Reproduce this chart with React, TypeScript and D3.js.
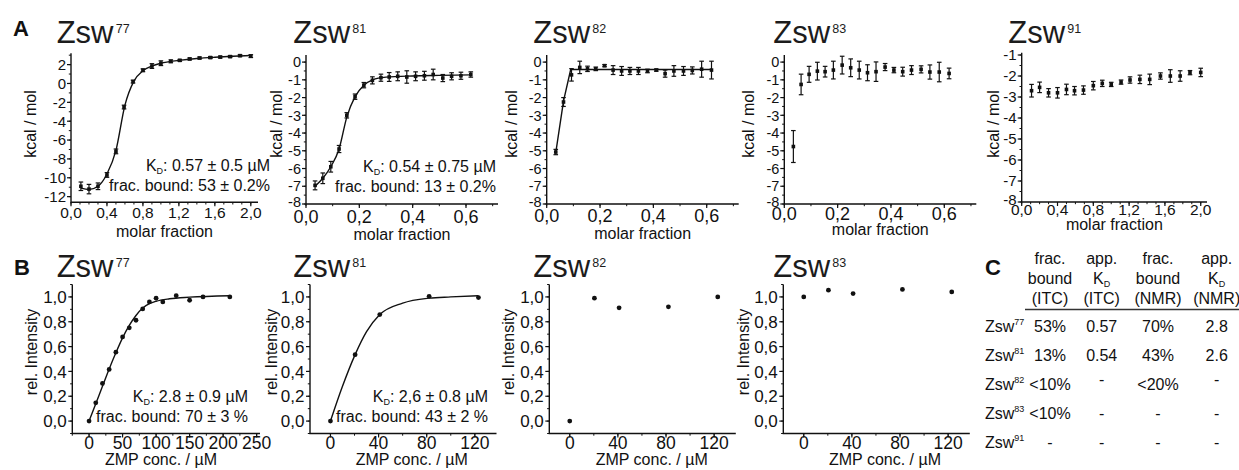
import React from 'react'
import * as d3 from 'd3'

const FONT = '"Liberation Sans", Arial, Helvetica, sans-serif'
const INK = '#111'

// ---- A: ITC titrations (molar fraction vs kcal/mol) ----
const molarLong = [0.11, 0.2, 0.3, 0.4, 0.5, 0.59, 0.69, 0.8, 0.9, 1.0, 1.11, 1.21, 1.32, 1.43, 1.55, 1.66, 1.77, 1.88, 2.0]
const molarShort = [0.034, 0.063, 0.093, 0.124, 0.153, 0.184, 0.217, 0.249, 0.281, 0.312, 0.344, 0.378, 0.411, 0.444, 0.477, 0.513, 0.546, 0.581, 0.618]

const heat77 = [-10.9, -11.2, -10.9, -9.7, -7.2, -2.5, 0.2, 1.4, 1.85, 2.15, 2.35, 2.45, 2.6, 2.7, 2.75, 2.8, 2.85, 2.95, 2.9]
const err77 = [0.45, 0.5, 0.35, 0.25, 0.25, 0.2, 0.15, 0.15, 0.25, 0.25, 0.15, 0.1, 0.1, 0.1, 0.1, 0.1, 0.1, 0.1, 0.15]
const fit77X = [0.11, 0.2, 0.3, 0.4, 0.5, 0.6, 0.7, 0.8, 0.9, 1.0, 1.2, 1.4, 1.6, 1.8, 2.0]
const fit77Y = [-11.1, -11.25, -10.9, -9.6, -7.1, -2.3, 0.25, 1.35, 1.85, 2.15, 2.45, 2.65, 2.78, 2.88, 2.97]

const heat81 = [-6.95, -6.55, -5.9, -4.9, -3.0, -1.95, -1.3, -1.03, -0.88, -0.84, -0.8, -0.84, -0.8, -0.77, -0.7, -0.9, -0.8, -0.77, -0.7]
const err81 = [0.25, 0.3, 0.3, 0.2, 0.15, 0.15, 0.15, 0.2, 0.2, 0.25, 0.25, 0.35, 0.25, 0.25, 0.3, 0.2, 0.2, 0.2, 0.15]
const fit81X = [0.034, 0.063, 0.093, 0.124, 0.153, 0.184, 0.217, 0.25, 0.3, 0.4, 0.5, 0.618]
const fit81Y = [-7.0, -6.55, -5.9, -4.9, -3.1, -1.95, -1.3, -1.0, -0.85, -0.78, -0.75, -0.72]

const heat82 = [-5.07, -2.25, -0.72, -0.3, -0.38, -0.38, -0.2, -0.45, -0.5, -0.5, -0.5, -0.5, -0.45, -0.65, -0.5, -0.5, -0.47, -0.4, -0.45]
const err82 = [0.15, 0.25, 0.35, 0.35, 0.15, 0.1, 0.06, 0.25, 0.25, 0.2, 0.2, 0.1, 0.06, 0.2, 0.3, 0.25, 0.2, 0.45, 0.5]
const fit82X = [0.034, 0.063, 0.09, 0.618]
const fit82Y = [-5.1, -2.2, -0.42, -0.42]

const heat83 = [-4.76, -1.26, -0.69, -0.51, -0.54, -0.45, -0.17, -0.32, -0.45, -0.6, -0.54, -0.28, -0.45, -0.54, -0.45, -0.41, -0.56, -0.56, -0.64]
const err83 = [0.9, 0.58, 0.45, 0.5, 0.3, 0.5, 0.5, 0.5, 0.5, 0.45, 0.55, 0.2, 0.15, 0.25, 0.25, 0.2, 0.4, 0.55, 0.3]

const heat91 = [-2.7, -2.54, -2.8, -2.8, -2.64, -2.7, -2.67, -2.46, -2.35, -2.4, -2.29, -2.19, -2.16, -2.16, -2.0, -2.0, -2.0, -1.84, -1.83]
const err91 = [0.3, 0.25, 0.2, 0.25, 0.25, 0.2, 0.2, 0.2, 0.15, 0.1, 0.1, 0.15, 0.2, 0.25, 0.15, 0.3, 0.25, 0.1, 0.2]

const molarTicksLong = [0, 0.4, 0.8, 1.2, 1.6, 2.0]
const molarTicksShort = [0, 0.2, 0.4, 0.6]
const kcalTicks77 = [-12, -10, -8, -6, -4, -2, 0, 2]
const kcalTicks8x = [-8, -7, -6, -5, -4, -3, -2, -1, 0]
const kcalTicks91 = [-8, -7, -6, -5, -4, -3, -2, -1]

// ---- B: NMR titrations (ZMP conc. vs rel. intensity) ----
const zmp77 = [0, 10, 20, 30, 40, 50, 60, 70, 80, 90, 100, 110, 130, 150, 170, 210]
const int77 = [0, 0.147, 0.303, 0.416, 0.555, 0.678, 0.751, 0.812, 0.903, 0.96, 0.99, 0.96, 1.01, 0.973, 1.0, 1.0]
const fitB77X = [0, 10, 20, 30, 40, 50, 60, 70, 80, 90, 100, 120, 150, 210]
const fitB77Y = [0, 0.14, 0.28, 0.42, 0.55, 0.67, 0.77, 0.85, 0.91, 0.945, 0.965, 0.985, 0.998, 1.01]

const zmpShort = [0, 20.5, 41, 82, 123]
const int81 = [0, 0.535, 0.858, 1.005, 0.995]
const fitB81X = [0, 10, 20.5, 30, 41, 60, 82, 100, 123]
const fitB81Y = [0, 0.28, 0.535, 0.72, 0.858, 0.95, 0.99, 1.0, 1.01]
const int82 = [0, 0.99, 0.912, 0.92, 1.0]
const int83 = [1.0, 1.054, 1.027, 1.06, 1.04]

const zmpTicksLong = [0, 50, 100, 150, 200, 250]
const zmpTicksShort = [0, 40, 80, 120]
const intensityTicks = [0, 0.2, 0.4, 0.6, 0.8, 1.0]

// ---- C: summary table ----
const tableRows = ['77', '81', '82', '83', '91']
const fracITC = ['53%', '13%', '<10%', '<10%', '-']
const kdITC = ['0.57', '0.54', '-', '-', '-']
const fracNMR = ['70%', '43%', '<20%', '-', '-']
const kdNMR = ['2.8', '2.6', '-', '-', '-']

const comma = (p: number) => (v: number) => v.toFixed(p).replace('.', ',')
const plain = (v: number) => `${v}`

type Spec = {
  left: number; right: number; top: number; bottom: number
  xDomain: [number, number]; yDomain: [number, number]
  xMajor: number[]; xMinor: number[]; yMajor: number[]; yMinor: number[]
  xFmt: (v: number) => string; yFmt: (v: number) => string
  xTickSize: number; yTickSize: number; xTickY: number; yTickPad: number
  xLabel: string; xLabelX?: number; xLabelY: number
  yLabel: string; yLabelX: number; yLabelY: number
}

const scalesOf = (s: Spec) => ({
  x: d3.scaleLinear().domain(s.xDomain).range([s.left, s.right]),
  y: d3.scaleLinear().domain(s.yDomain).range([s.bottom, s.top]),
})

const Axes = ({ s }: { s: Spec }) => {
  const { x, y } = scalesOf(s)
  return (
    <g fill={INK}>
      <path d={`M${s.left},${s.top}V${s.bottom}H${s.right}`} fill="none" stroke={INK} strokeWidth={1.4} />
      {s.yMinor.map((v, i) => <line key={'ym' + i} x1={s.left} x2={s.left - 2.2} y1={y(v)} y2={y(v)} stroke={INK} strokeWidth={1} />)}
      {s.yMajor.map((v, i) => <line key={'yM' + i} x1={s.left} x2={s.left - 4} y1={y(v)} y2={y(v)} stroke={INK} strokeWidth={1.2} />)}
      {s.xMinor.map((v, i) => <line key={'xm' + i} y1={s.bottom} y2={s.bottom + 2.2} x1={x(v)} x2={x(v)} stroke={INK} strokeWidth={1} />)}
      {s.xMajor.map((v, i) => <line key={'xM' + i} y1={s.bottom} y2={s.bottom + 4} x1={x(v)} x2={x(v)} stroke={INK} strokeWidth={1.2} />)}
      {s.yMajor.map((v, i) => {
        // the label in the corner sits a little higher, as in the original
        const lift = s.bottom - y(v) < 3 ? 2 : 0
        return (
          <text key={'yl' + i} x={s.left - s.yTickPad} y={y(v) - lift} dy="0.36em" textAnchor="end" fontSize={s.yTickSize}>{s.yFmt(v)}</text>
        )
      })}
      {s.xMajor.map((v, i) => (
        <text key={'xl' + i} x={x(v)} y={s.xTickY} textAnchor="middle" fontSize={s.xTickSize}>{s.xFmt(v)}</text>
      ))}
      <text x={s.xLabelX ?? (s.left + s.right) / 2} y={s.xLabelY} textAnchor="middle" fontSize={16}>{s.xLabel}</text>
      <text transform={`translate(${s.yLabelX},${s.yLabelY}) rotate(-90)`} textAnchor="middle" dy="0.35em" fontSize={16}>{s.yLabel}</text>
    </g>
  )
}

const ErrorPoints = ({ s, xs, ys, es }: { s: Spec; xs: number[]; ys: number[]; es: number[] }) => {
  const { x, y } = scalesOf(s)
  return (
    <g stroke={INK} fill={INK}>
      {xs.map((xv, i) => {
        const cx = x(xv)
        const lo = y(ys[i] - es[i])
        const hi = y(ys[i] + es[i])
        return (
          <g key={i}>
            <line x1={cx} x2={cx} y1={lo} y2={hi} strokeWidth={1.2} />
            <line x1={cx - 2.3} x2={cx + 2.3} y1={lo} y2={lo} strokeWidth={1.2} />
            <line x1={cx - 2.3} x2={cx + 2.3} y1={hi} y2={hi} strokeWidth={1.2} />
            <rect x={cx - 1.8} y={y(ys[i]) - 1.8} width={3.6} height={3.6} stroke="none" />
          </g>
        )
      })}
    </g>
  )
}

const Dots = ({ s, xs, ys }: { s: Spec; xs: number[]; ys: number[] }) => {
  const { x, y } = scalesOf(s)
  return <g fill={INK}>{xs.map((xv, i) => <circle key={i} cx={x(xv)} cy={y(ys[i])} r={2.4} />)}</g>
}

const FitLine = ({ s, xs, ys, curve }: { s: Spec; xs: number[]; ys: number[]; curve: d3.CurveFactory }) => {
  const { x, y } = scalesOf(s)
  const line = d3.line<number>().x((d) => x(d)).y((_, i) => y(ys[i])).curve(curve)
  return <path d={line(xs) ?? ''} fill="none" stroke={INK} strokeWidth={1.4} />
}

const Title = ({ x, y, sup }: { x: number; y: number; sup: string }) => (
  <g fill="#1c1c1c">
    <text x={x} y={y} fontSize={31}>Zsw</text>
    <text x={x + 59} y={y - 10} fontSize={12.5}>{sup}</text>
  </g>
)

const KdNote = ({ x, y, kd, frac }: { x: number; y: number; kd: string; frac: string }) => (
  <g fill={INK} fontSize={16} textAnchor="end">
    <text x={x} y={y}>
      K<tspan fontSize={9} dy={3}>D</tspan><tspan dy={-3}>{`: ${kd}`}</tspan>
    </text>
    <text x={x} y={y + 20}>{frac}</text>
  </g>
)

// panel geometry
const aLong = (left: number, right: number, top: number, bottom: number, xMax: number, yDomain: [number, number], yMajor: number[], yStep: number, yLabelX: number, xTickY: number, xLabelY: number): Spec => ({
  left, right, top, bottom, xDomain: [0, xMax], yDomain,
  xMajor: molarTicksLong, xMinor: d3.range(0, 2.001, 0.1),
  yMajor, yMinor: d3.range(yMajor[0], yDomain[1], yStep),
  xFmt: comma(1), yFmt: plain, xTickSize: 15.5, yTickSize: 15, xTickY, yTickPad: 5,
  xLabel: 'molar fraction', xLabelY, yLabel: 'kcal / mol', yLabelX, yLabelY: 124,
})

const aShort = (left: number, yLabelX: number, xTickY: number, xLabelY: number): Spec => ({
  left, right: left + 192, top: 55, bottom: 204, xDomain: [0, 0.72], yDomain: [-8, 0.4],
  xMajor: molarTicksShort, xMinor: d3.range(0, 0.71, 0.1),
  yMajor: kcalTicks8x, yMinor: d3.range(-8, 0.4, 0.5),
  xFmt: comma(1), yFmt: plain, xTickSize: 18, yTickSize: 14.5, xTickY, yTickPad: 5,
  xLabel: 'molar fraction', xLabelY, yLabel: 'kcal / mol', yLabelX, yLabelY: 124,
})

const bPanel = (left: number, long: boolean, yLabelX: number, xLabelX: number): Spec => ({
  left, right: long ? 260 : left + 186.5, top: 284.5, bottom: 433.5,
  xDomain: long ? [-25, 255] : [-17, 138], yDomain: [-0.1, 1.1],
  xMajor: long ? zmpTicksLong : zmpTicksShort,
  xMinor: long ? d3.range(-25, 255, 25) : d3.range(0, 138, 20),
  yMajor: intensityTicks, yMinor: d3.range(-0.1, 1.11, 0.1),
  xFmt: plain, yFmt: comma(1), xTickSize: 17.5, yTickSize: 17, xTickY: 449, yTickPad: 5.5,
  xLabel: 'ZMP conc. / µM', xLabelX, xLabelY: 465, yLabel: 'rel. Intensity', yLabelX, yLabelY: 352,
})

const A1 = aLong(71, 258, 53.3, 202.3, 2.08, [-12.6, 3.2], kcalTicks77, 1, 30, 218, 237)
const A2 = aShort(306, 276.7, 222.5, 239.5)
const A3 = aShort(546.7, 511.7, 221.5, 238.5)
const A4 = aShort(784.3, 748.3, 220, 235)
const A5 = aLong(1021.7, 1207, 52.7, 202, 2.07, [-8, -0.89], kcalTicks91, 0.5, 993.3, 215, 229.5)

const B1 = bPanel(72.3, true, 31, 161)
const B2 = bPanel(310, false, 271, 411.7)
const B3 = bPanel(549.3, false, 508.5, 651.7)
const B4 = bPanel(783.3, false, 743, 885)

const colX = [1050, 1101.7, 1158, 1216.7]
const rowY = [332, 361, 390, 419, 448]

const Table = () => (
  <g fill={INK} fontSize={16}>
    <text x={985} y={275} fontSize={22} fontWeight="bold">C</text>
    {[['frac.', 'bound', '(ITC)'], ['app.', null, '(ITC)'], ['frac.', 'bound', '(NMR)'], ['app.', null, '(NMR)']].map((h, c) => (
      <g key={c} textAnchor="middle">
        <text x={colX[c]} y={264}>{h[0]}</text>
        <text x={colX[c]} y={284}>
          {h[1] ?? <>K<tspan fontSize={9} dy={3}>D</tspan></>}
        </text>
        <text x={colX[c]} y={304}>{h[2]}</text>
      </g>
    ))}
    <line x1={1025} x2={1239} y1={309.5} y2={309.5} stroke="#333" strokeWidth={1.6} />
    {tableRows.map((r, i) => (
      <g key={r}>
        <text x={985} y={rowY[i]} fontSize={16}>Zsw<tspan fontSize={9} dy={-7}>{r}</tspan></text>
        {[fracITC, kdITC, fracNMR, kdNMR].map((col, c) => (
          <text key={c} x={colX[c]} y={rowY[i] - (col[i] === '-' && i === 2 ? 5 : 0)} textAnchor="middle" fontSize={16}>{col[i]}</text>
        ))}
      </g>
    ))}
  </g>
)

export default function App() {
  return (
    <svg width={1239} height={470} style={{ position: 'absolute', left: 0, top: 0, background: '#fff' }} fontFamily={FONT}>
      <rect width={1239} height={470} fill="#fff" />
      <text x={13} y={36} fontSize={22} fontWeight="bold" fill={INK}>A</text>
      <text x={14} y={275} fontSize={22} fontWeight="bold" fill={INK}>B</text>

      <Title x={56.7} y={43} sup="77" />
      <Title x={293.3} y={43} sup="81" />
      <Title x={533.3} y={43} sup="82" />
      <Title x={773.3} y={43} sup="83" />
      <Title x={1008.3} y={43} sup="91" />

      <Axes s={A1} />
      <FitLine s={A1} xs={fit77X} ys={fit77Y} curve={d3.curveMonotoneX} />
      <ErrorPoints s={A1} xs={molarLong} ys={heat77} es={err77} />
      <KdNote x={270} y={171} kd="0.57 ± 0.5 µM" frac="frac. bound: 53 ± 0.2%" />

      <Axes s={A2} />
      <FitLine s={A2} xs={fit81X} ys={fit81Y} curve={d3.curveMonotoneX} />
      <ErrorPoints s={A2} xs={molarShort} ys={heat81} es={err81} />
      <KdNote x={496} y={172} kd="0.54 ± 0.75 µM" frac="frac. bound: 13 ± 0.2%" />

      <Axes s={A3} />
      <FitLine s={A3} xs={fit82X} ys={fit82Y} curve={d3.curveLinear} />
      <ErrorPoints s={A3} xs={molarShort} ys={heat82} es={err82} />

      <Axes s={A4} />
      <ErrorPoints s={A4} xs={molarShort} ys={heat83} es={err83} />

      <Axes s={A5} />
      <ErrorPoints s={A5} xs={molarLong} ys={heat91} es={err91} />

      <Title x={56.7} y={277} sup="77" />
      <Title x={293.3} y={277} sup="81" />
      <Title x={533.3} y={277} sup="82" />
      <Title x={773.3} y={277} sup="83" />

      <Axes s={B1} />
      <FitLine s={B1} xs={fitB77X} ys={fitB77Y} curve={d3.curveMonotoneX} />
      <Dots s={B1} xs={zmp77} ys={int77} />
      <KdNote x={248} y={402} kd="2.8 ± 0.9 µM" frac="frac. bound: 70 ± 3 %" />

      <Axes s={B2} />
      <FitLine s={B2} xs={fitB81X} ys={fitB81Y} curve={d3.curveMonotoneX} />
      <Dots s={B2} xs={zmpShort} ys={int81} />
      <KdNote x={488} y={402} kd="2,6 ± 0.8 µM" frac="frac. bound: 43 ± 2 %" />

      <Axes s={B3} />
      <Dots s={B3} xs={zmpShort} ys={int82} />

      <Axes s={B4} />
      <Dots s={B4} xs={zmpShort} ys={int83} />

      <Table />
    </svg>
  )
}
